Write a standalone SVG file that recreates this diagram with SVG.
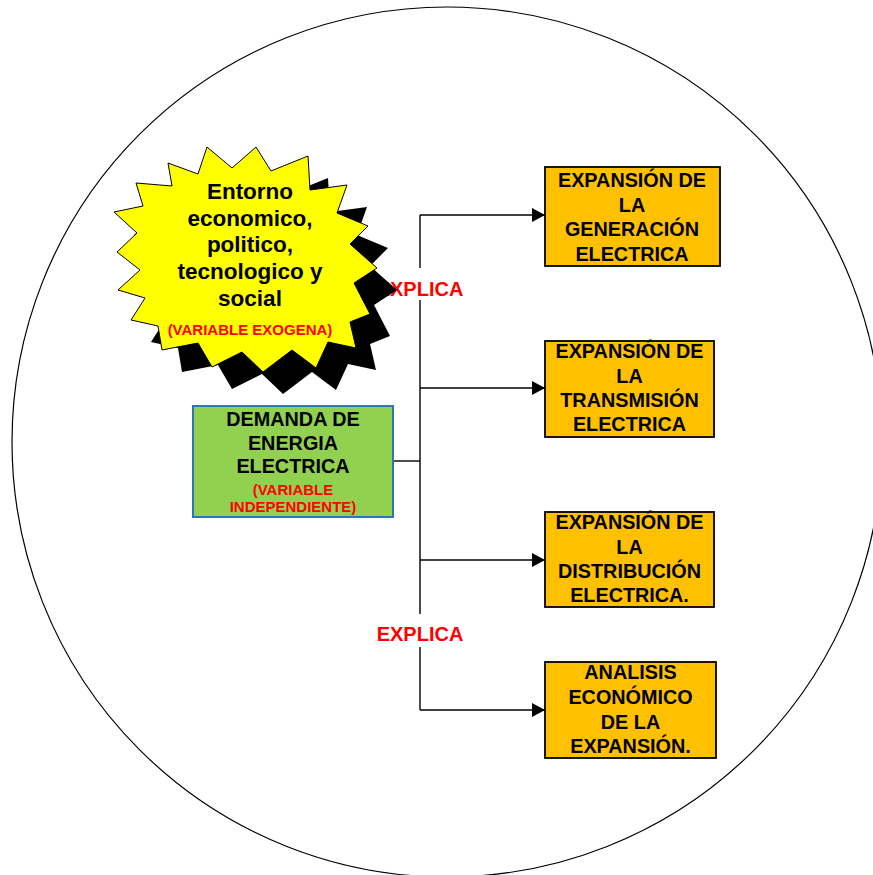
<svg xmlns="http://www.w3.org/2000/svg" width="873" height="875" viewBox="0 0 873 875">
  <style>
    .frame { fill: none; stroke: #000; stroke-width: 1.2; }
    .wire { fill: none; stroke: #000; stroke-width: 1.4; }
    .box { fill: #FFC000; stroke: #000; stroke-width: 1.8; }
    .demand { fill: #92D050; stroke: #2E75B6; stroke-width: 2; }
    .t { font-family: "Liberation Sans", Arial, sans-serif; font-weight: bold; text-anchor: middle; }
    .main { font-size: 19.8px; fill: #000; }
    .star { font-size: 22.5px; fill: #000; }
    .note { font-size: 15px; fill: #FF0000; }
    .lbl { font-size: 20px; fill: #FF0000; }
  </style>
  <defs>
    <marker id="arrow" viewBox="0 0 13 14" refX="13" refY="7" markerWidth="13" markerHeight="14" markerUnits="userSpaceOnUse" orient="auto">
      <path d="M0,0 L13,7 L0,14 Z" fill="#000"/>
    </marker>
    <polygon id="burst" points="207,147 232,168 256,147 271,171 308,156 310,190 347,185 337,213 368,226 350,244 377,268 354,283 370,314 350,322 356,348 328,342 316,368 292,350 263,372 242,352 212,367 198,343 162,350 158,326 131,320 145,298 118,290 140,270 117,252 137,233 114,212 143,206 136,183 172,186 168,163 198,174"/>
  </defs>

  <rect width="873" height="875" fill="#fff"/>

  <!-- enclosing circle -->
  <circle class="frame" cx="447" cy="442" r="435"/>

  <!-- connectors -->
  <g id="connectors">
    <path class="wire" d="M393,461 H420"/>
    <path class="wire" d="M420,215 V710"/>
    <path class="wire" d="M420,215 H545" marker-end="url(#arrow)"/>
    <path class="wire" d="M420,388 H545" marker-end="url(#arrow)"/>
    <path class="wire" d="M420,560 H545" marker-end="url(#arrow)"/>
    <path class="wire" d="M420,710 H545" marker-end="url(#arrow)"/>
  </g>

  <!-- connector labels -->
  <g id="label-explica-1">
    <rect x="376" y="268" width="88" height="32" fill="#fff"/>
    <text class="t lbl" x="420" y="296">EXPLICA</text>
  </g>
  <g id="label-explica-2">
    <rect x="376" y="614" width="88" height="33" fill="#fff"/>
    <text class="t lbl" x="420" y="641">EXPLICA</text>
  </g>

  <!-- exogenous variable starburst -->
  <g id="entorno">
    <use href="#burst" transform="translate(20,22)" fill="#000"/>
    <use href="#burst" fill="#FFFF00" stroke="#000" stroke-width="1"/>
    <text class="t star" x="250" y="199">Entorno</text>
    <text class="t star" x="250" y="225.7">economico,</text>
    <text class="t star" x="250" y="252.4">politico,</text>
    <text class="t star" x="250" y="279">tecnologico y</text>
    <text class="t star" x="250" y="305.8">social</text>
    <text class="t note" x="250" y="335">(VARIABLE EXOGENA)</text>
  </g>

  <!-- independent variable -->
  <g id="demanda">
    <rect class="demand" x="193" y="406" width="200" height="111"/>
    <text class="t main" x="293" y="426">DEMANDA DE</text>
    <text class="t main" x="293" y="449.5">ENERGIA</text>
    <text class="t main" x="293" y="473">ELECTRICA</text>
    <text class="t note" x="293" y="495">(VARIABLE</text>
    <text class="t note" x="293" y="512">INDEPENDIENTE)</text>
  </g>

  <!-- dependent outcomes -->
  <g id="generacion">
    <rect class="box" x="545" y="167" width="175" height="99"/>
    <text class="t main" x="632" y="187">EXPANSIÓN DE</text>
    <text class="t main" x="632" y="211.5">LA</text>
    <text class="t main" x="632" y="236">GENERACIÓN</text>
    <text class="t main" x="632" y="260.5">ELECTRICA</text>
  </g>

  <g id="transmision">
    <rect class="box" x="545" y="341" width="169" height="96"/>
    <text class="t main" x="629.5" y="358">EXPANSIÓN DE</text>
    <text class="t main" x="629.5" y="382.5">LA</text>
    <text class="t main" x="629.5" y="407">TRANSMISIÓN</text>
    <text class="t main" x="629.5" y="431">ELECTRICA</text>
  </g>

  <g id="distribucion">
    <rect class="box" x="545" y="512" width="169" height="95"/>
    <text class="t main" x="629.5" y="529">EXPANSIÓN DE</text>
    <text class="t main" x="629.5" y="553.5">LA</text>
    <text class="t main" x="629.5" y="578">DISTRIBUCIÓN</text>
    <text class="t main" x="629.5" y="602">ELECTRICA.</text>
  </g>

  <g id="analisis">
    <rect class="box" x="545" y="662" width="171" height="96"/>
    <text class="t main" x="630.5" y="679">ANALISIS</text>
    <text class="t main" x="630.5" y="704">ECONÓMICO</text>
    <text class="t main" x="630.5" y="728.5">DE LA</text>
    <text class="t main" x="630.5" y="753">EXPANSIÓN.</text>
  </g>
</svg>
